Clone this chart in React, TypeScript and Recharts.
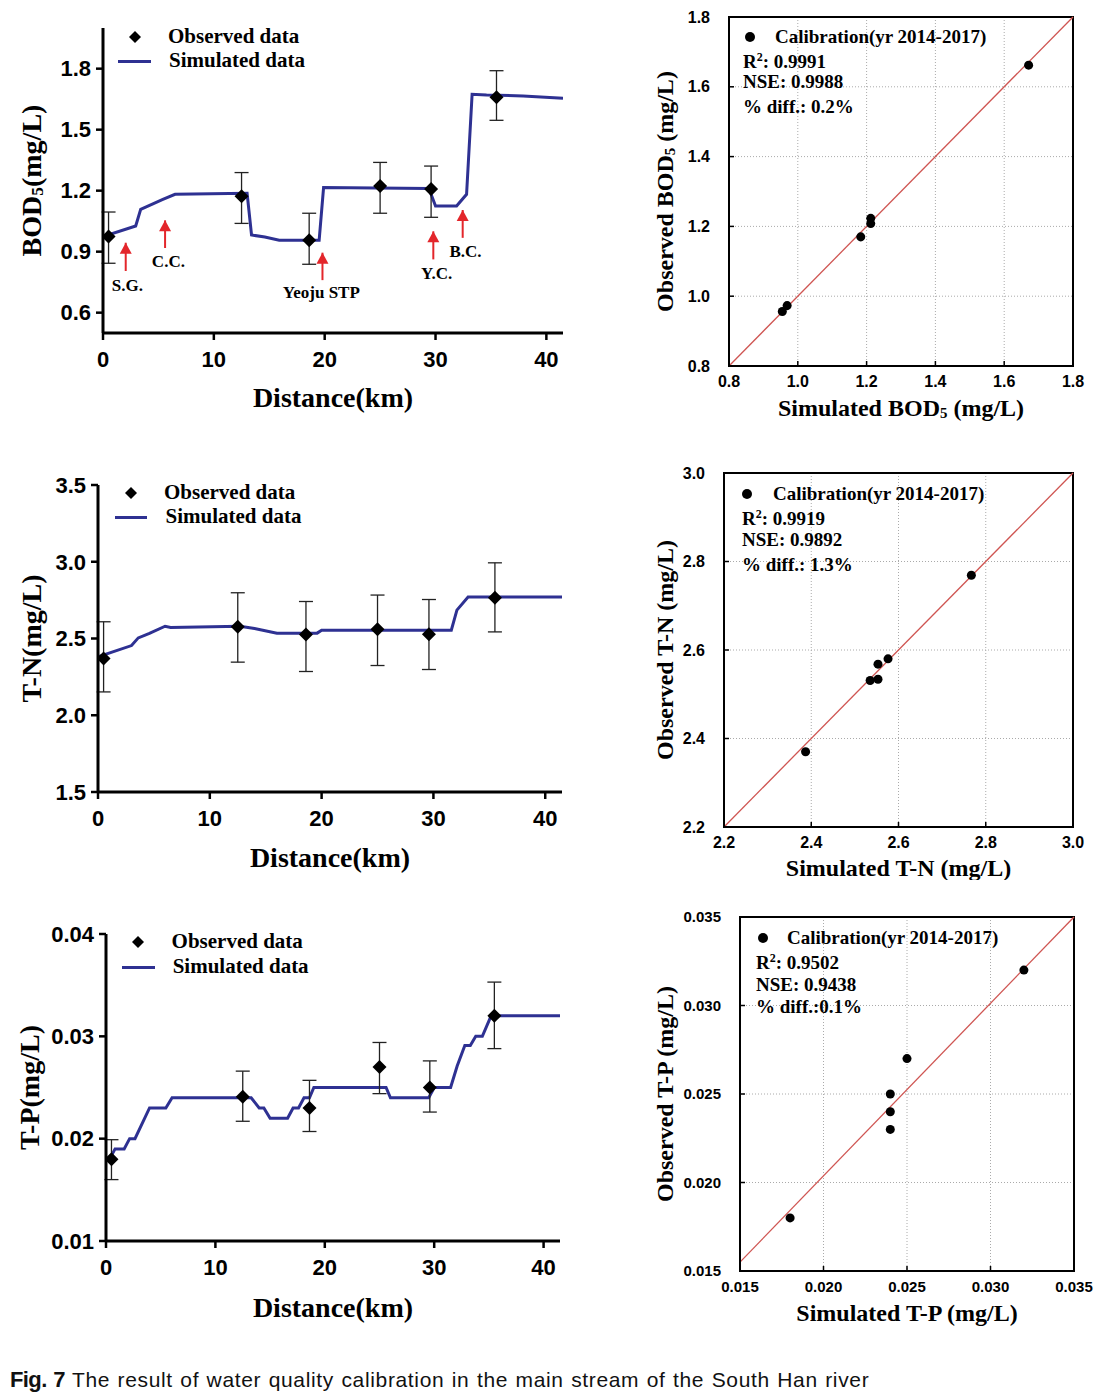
import React from 'react';
import {
  ComposedChart,
  Line,
  Scatter,
  XAxis,
  YAxis,
  ErrorBar,
  ReferenceLine,
  ReferenceDot,
  ReferenceArea,
  CartesianGrid,
  Legend,
} from 'recharts';

const SERIF = '"Liberation Serif", "Times New Roman", serif';
const SANS = '"Liberation Sans", Arial, sans-serif';
const NAVY = '#2e3192';
const RED = '#e3262b';
const FIT = '#cf5552';

// ---------- longitudinal profiles ----------
const stationKm = [0.5, 12.5, 18.6, 25.0, 29.6, 35.5];

const bodSimKm = [0, 2.95, 3.4, 4.4, 5.4, 6.5, 13.0, 13.4, 14.6, 15.9, 19.5, 19.9, 29.4, 30.0, 31.9, 32.8, 33.3, 34.6, 37.9, 41.5];
const bodSimVal = [0.974, 1.026, 1.108, 1.133, 1.157, 1.182, 1.187, 0.982, 0.972, 0.956, 0.956, 1.215, 1.211, 1.125, 1.125, 1.182, 1.674, 1.67, 1.666, 1.654];
const bodObsVal = [0.974, 1.172, 0.956, 1.223, 1.208, 1.66];
const bodObsLow = [0.843, 1.039, 0.838, 1.089, 1.069, 1.546];
const bodObsHigh = [1.095, 1.289, 1.089, 1.339, 1.321, 1.79];

const tnSimKm = [0, 3.0, 3.6, 4.6, 6.0, 6.5, 12.7, 14.0, 16.0, 19.6, 20.0, 31.6, 32.1, 33.1, 41.5];
const tnSimVal = [2.38, 2.454, 2.504, 2.533, 2.58, 2.572, 2.58, 2.565, 2.535, 2.535, 2.554, 2.554, 2.685, 2.77, 2.77];
const tnObsVal = [2.37, 2.576, 2.526, 2.561, 2.528, 2.765];
const tnObsLow = [2.152, 2.346, 2.285, 2.324, 2.298, 2.543];
const tnObsHigh = [2.609, 2.798, 2.741, 2.783, 2.754, 2.993];

const tpSimKm = [0.33, 0.83, 1.66, 2.16, 2.65, 3.98, 5.47, 6.04, 13.27, 14.0, 14.43, 15.0, 16.6, 17.1, 17.6, 18.1, 18.6, 19.0, 25.6, 26.0, 29.5, 30.0, 31.5, 32.1, 32.8, 33.3, 33.8, 34.4, 35.2, 41.5];
const tpSimVal = [0.018, 0.019, 0.019, 0.02, 0.02, 0.023, 0.023, 0.024, 0.024, 0.023, 0.023, 0.022, 0.022, 0.023, 0.023, 0.024, 0.024, 0.025, 0.025, 0.024, 0.024, 0.025, 0.025, 0.0271, 0.0291, 0.0291, 0.03, 0.03, 0.032, 0.032];
const tpObsVal = [0.018, 0.0241, 0.023, 0.027, 0.025, 0.032];
const tpObsLow = [0.016, 0.0217, 0.0207, 0.0244, 0.0226, 0.0288];
const tpObsHigh = [0.0199, 0.0266, 0.0257, 0.0294, 0.0276, 0.0353];

const kmTicks = [0, 10, 20, 30, 40];
const bodTicks = [0.6, 0.9, 1.2, 1.5, 1.8];
const tnTicks = [1.5, 2.0, 2.5, 3.0, 3.5];
const tpTicks = [0.01, 0.02, 0.03, 0.04];

// tributary / outfall arrows on the BOD profile
const arrowKm = [2.05, 5.6, 19.8, 29.8, 32.45];
const arrowHead = [0.944, 1.054, 0.895, 1.0, 1.105];
const arrowTail = [0.805, 0.918, 0.76, 0.862, 0.968];
const arrowName = ['S.G.', 'C.C.', 'Yeoju STP', 'Y.C.', 'B.C.'];
const arrowNameKm = [2.2, 5.9, 19.7, 30.1, 32.7];
const arrowNameVal = [0.736, 0.852, 0.698, 0.795, 0.9];

// ---------- scatter (simulated vs observed) ----------
const bodScSim = [0.955, 0.969, 1.183, 1.212, 1.212, 1.671];
const bodScObs = [0.956, 0.973, 1.17, 1.223, 1.208, 1.662];
const tnScSim = [2.387, 2.535, 2.553, 2.553, 2.576, 2.767];
const tnScObs = [2.37, 2.531, 2.534, 2.568, 2.58, 2.769];
const tpScSim = [0.018, 0.024, 0.024, 0.024, 0.025, 0.032];
const tpScObs = [0.018, 0.025, 0.024, 0.023, 0.027, 0.032];

const bodScTicks = [0.8, 1.0, 1.2, 1.4, 1.6, 1.8];
const tnScTicks = [2.2, 2.4, 2.6, 2.8, 3.0];
const tpScTicks = [0.015, 0.02, 0.025, 0.03, 0.035];

const bodFit = [[0.8, 0.8], [1.8, 1.8]];
const tnFit = [[2.2, 2.2], [3.0, 3.0]];
const tpFit = [[0.015, 0.0155], [0.035, 0.035]];

const bodStats = ['0.9991', '0.9988', ' 0.2%'];
const tnStats = ['0.9919', '0.9892', ' 1.3%'];
const tpStats = ['0.9502', '0.9438', '0.1%'];

// ---------- helpers ----------
const toLine = (xs: number[], ys: number[]) => xs.map((x, i) => ({ x, y: ys[i] }));
const toObs = (v: number[], lo: number[], hi: number[]) =>
  stationKm.map((x, i) => ({ x, y: v[i], err: [v[i] - lo[i], hi[i] - v[i]] }));
const toPairs = (xs: number[], ys: number[]) => xs.map((x, i) => ({ x, y: ys[i] }));

type Seg = { t: string; k?: 'sub' | 'sup' };

function richSpans(segs: Seg[], size: number) {
  let shift = 0;
  return segs.map((s, i) => {
    const target = s.k === 'sub' ? size * 0.22 : s.k === 'sup' ? -size * 0.38 : 0;
    const dy = target - shift;
    shift = target;
    return (
      <tspan key={i} dy={dy} fontSize={s.k ? size * 0.62 : size}>
        {s.t}
      </tspan>
    );
  });
}

const yTitle = (segs: Seg[], x: number, size: number) => (props: any) => {
  const vb = props.viewBox;
  const cy = vb.y + vb.height / 2;
  return (
    <text x={x} y={cy} transform={`rotate(-90 ${x} ${cy})`} textAnchor="middle" dominantBaseline="central"
      fontFamily={SERIF} fontWeight={700} fontSize={size} fill="#000">
      {richSpans(segs, size)}
    </text>
  );
};

const xTitle = (segs: Seg[], y: number, size: number) => (props: any) => {
  const vb = props.viewBox;
  const cx = vb.x + vb.width / 2;
  return (
    <text x={cx} y={y} textAnchor="middle" dominantBaseline="central"
      fontFamily={SERIF} fontWeight={700} fontSize={size} fill="#000">
      {richSpans(segs, size)}
    </text>
  );
};

const Diamond = (p: any) => {
  const r = 7;
  const { cx, cy } = p;
  return <polygon points={`${cx},${cy - r} ${cx + r},${cy} ${cx},${cy + r} ${cx - r},${cy}`} fill="#000" />;
};

const ArrowHead = (p: any) => (
  <polygon points={`${p.cx},${p.cy} ${p.cx + 6},${p.cy + 11} ${p.cx - 6},${p.cy + 11}`} fill={RED} />
);

const tag = (text: string) => (p: any) => (
  <text x={p.cx} y={p.cy} textAnchor="middle" dominantBaseline="central" fontFamily={SERIF} fontWeight={700} fontSize={17} fill="#000">
    {text}
  </text>
);

function Tx({ x, cy, size, children }: { x: number; cy: number; size: number; children: React.ReactNode }) {
  return (
    <div style={{ position: 'absolute', left: x, top: cy - size * 0.6, fontSize: size, lineHeight: `${size * 1.2}px`,
      fontFamily: SERIF, fontWeight: 700, color: '#000', whiteSpace: 'nowrap' }}>
      {children}
    </div>
  );
}

type ProfLegendPos = { dx: number; dy: number; lx1: number; lx2: number; ly: number; t1: number; t2: number };

function ProfileLegend({ p }: { p: ProfLegendPos }) {
  return (
    <div style={{ position: 'relative', width: 1, height: 1 }}>
      <svg style={{ position: 'absolute', left: p.dx - 7, top: p.dy - 7, overflow: 'visible' }} width={14} height={14}>
        <polygon points="7,1 13,7 7,13 1,7" fill="#000" />
      </svg>
      <Tx x={p.t1} cy={p.dy} size={21}>Observed data</Tx>
      <div style={{ position: 'absolute', left: p.lx1, top: p.ly - 1.5, width: p.lx2 - p.lx1, height: 3, background: NAVY }} />
      <Tx x={p.t2} cy={p.ly} size={21}>Simulated data</Tx>
    </div>
  );
}

type ScLegendPos = { dx: number; dy: number; tx: number; sx: number; r: number; n: number; d: number };

function ScatterLegend({ p, stats }: { p: ScLegendPos; stats: string[] }) {
  return (
    <div style={{ position: 'relative', width: 1, height: 1 }}>
      <div style={{ position: 'absolute', left: p.dx - 5, top: p.dy - 5, width: 10, height: 10, borderRadius: 5, background: '#000' }} />
      <Tx x={p.tx} cy={p.dy} size={19}>Calibration(yr 2014-2017)</Tx>
      <Tx x={p.sx} cy={p.r} size={19}>
        R<sup style={{ fontSize: 12, verticalAlign: 'top', lineHeight: '12px' }}>2</sup>: {stats[0]}
      </Tx>
      <Tx x={p.sx} cy={p.n} size={19}>NSE: {stats[1]}</Tx>
      <Tx x={p.sx} cy={p.d} size={19}>% diff.:{stats[2]}</Tx>
    </div>
  );
}

// ---------- panels ----------
type ProfileProps = {
  top: number;
  height: number;
  margin: { top: number; right: number; left: number; bottom: number };
  sim: { x: number; y: number }[];
  obs: { x: number; y: number; err: number[] }[];
  yDomain: [number, number];
  yTicks: number[];
  digits: number;
  yLabel: Seg[];
  yLabelX: number;
  xLabelY: number;
  legend: ProfLegendPos;
  extras?: React.ReactNode;
};

function ProfilePanel(props: ProfileProps) {
  const { top, height, margin, sim, obs, yDomain, yTicks, digits, yLabel, yLabelX, xLabelY, legend, extras } = props;
  return (
    <div style={{ position: 'absolute', left: 0, top, width: 580, height }}>
      <ComposedChart width={580} height={height} margin={margin}>
        <XAxis type="number" dataKey="x" domain={[0, 41.5]} ticks={kmTicks} allowDataOverflow height={30}
          axisLine={{ stroke: '#000', strokeWidth: 3 }} tickLine={{ stroke: '#000', strokeWidth: 2.5 }}
          tickSize={7} tickMargin={11} tick={{ fill: '#000', fontFamily: SANS, fontWeight: 700, fontSize: 22 }}
          label={xTitle([{ t: 'Distance(km)' }], xLabelY, 28)} />
        <YAxis type="number" domain={yDomain} ticks={yTicks} allowDataOverflow width={60}
          tickFormatter={(v: number) => v.toFixed(digits)}
          axisLine={{ stroke: '#000', strokeWidth: 3 }} tickLine={{ stroke: '#000', strokeWidth: 2.5 }}
          tickSize={7} tickMargin={5} tick={{ fill: '#000', fontFamily: SANS, fontWeight: 700, fontSize: 22 }}
          label={yTitle(yLabel, yLabelX, 28)} />
        <Legend verticalAlign="middle" align="center" layout="horizontal"
          wrapperStyle={{ left: 0, top: 0, width: 1, height: 1 }}
          content={() => <ProfileLegend p={legend} />} />
        <Line data={sim} dataKey="y" type="linear" stroke={NAVY} strokeWidth={3} dot={false} isAnimationActive={false} />
        <Scatter data={obs} dataKey="y" shape={Diamond} isAnimationActive={false}>
          <ErrorBar dataKey="err" direction="y" width={7} stroke="#222" strokeWidth={1.3} />
        </Scatter>
        {extras}
      </ComposedChart>
    </div>
  );
}

type ScatterProps = {
  left: number;
  top: number;
  height: number;
  margin: { top: number; right: number; left: number; bottom: number };
  pts: { x: number; y: number }[];
  domain: [number, number];
  ticks: number[];
  digits: number;
  fit: number[][];
  fontSize: number;
  xLabel: Seg[];
  yLabel: Seg[];
  xLabelY: number;
  legend: ScLegendPos;
  stats: string[];
};

function ScatterPanel(props: ScatterProps) {
  const { left, top, height, margin, pts, domain, ticks, digits, fit, fontSize, xLabel, yLabel, xLabelY, legend, stats } = props;
  const fmt = (v: number) => v.toFixed(digits);
  const tick = { fill: '#000', fontFamily: SANS, fontWeight: 700, fontSize };
  return (
    <div style={{ position: 'absolute', left, top, width: 483, height }}>
      <ComposedChart width={483} height={height} margin={margin}>
        <CartesianGrid stroke="#aaa" strokeDasharray="1 2" />
        <XAxis type="number" dataKey="x" domain={domain} ticks={ticks} allowDataOverflow height={30} tickFormatter={fmt}
          axisLine={{ stroke: '#000', strokeWidth: 2 }} tickLine={{ stroke: '#000', strokeWidth: 1.5 }}
          tickSize={-5} tickMargin={15} tick={tick} label={xTitle(xLabel, xLabelY, 24)} />
        <YAxis type="number" domain={domain} ticks={ticks} allowDataOverflow width={60} tickFormatter={fmt}
          axisLine={{ stroke: '#000', strokeWidth: 2 }} tickLine={{ stroke: '#000', strokeWidth: 1.5 }}
          tickSize={-5} tickMargin={24} tick={tick} label={yTitle(yLabel, 35, 24)} />
        <ReferenceArea x1={domain[0]} x2={domain[1]} y1={domain[0]} y2={domain[1]} fill="none" fillOpacity={0}
          stroke="#000" strokeWidth={2} ifOverflow="visible" />
        <ReferenceLine segment={[{ x: fit[0][0], y: fit[0][1] }, { x: fit[1][0], y: fit[1][1] }]}
          stroke={FIT} strokeWidth={1.3} ifOverflow="visible" />
        <Legend verticalAlign="middle" align="center" layout="horizontal"
          wrapperStyle={{ left: 0, top: 0, width: 1, height: 1 }}
          content={() => <ScatterLegend p={legend} stats={stats} />} />
        <Scatter data={pts} dataKey="y" fill="#000" isAnimationActive={false} />
      </ComposedChart>
    </div>
  );
}

const bodArrows = arrowKm.flatMap((km, i) => [
  <ReferenceLine key={`s${i}`} segment={[{ x: km, y: arrowTail[i] }, { x: km, y: arrowHead[i] }]} stroke={RED} strokeWidth={2} />,
  <ReferenceDot key={`h${i}`} x={km} y={arrowHead[i]} r={6} shape={ArrowHead} />,
  <ReferenceDot key={`t${i}`} x={arrowNameKm[i]} y={arrowNameVal[i]} r={6} shape={tag(arrowName[i])} />,
]);

export default function App() {
  return (
    <div style={{ position: 'absolute', left: 0, top: 0, width: 1113, height: 1396, background: '#fff', overflow: 'hidden' }}>
      <ProfilePanel top={0} height={430} margin={{ top: 28, right: 17, left: 43, bottom: 67 }}
        sim={toLine(bodSimKm, bodSimVal)} obs={toObs(bodObsVal, bodObsLow, bodObsHigh)}
        yDomain={[0.5, 2.0]} yTicks={bodTicks} digits={1}
        yLabel={[{ t: 'BOD' }, { t: '5', k: 'sub' }, { t: '(mg/L)' }]} yLabelX={31} xLabelY={397}
        legend={{ dx: 134.5, dy: 37, lx1: 118, lx2: 151, ly: 61, t1: 168, t2: 169 }}
        extras={bodArrows} />
      <ProfilePanel top={440} height={440} margin={{ top: 45, right: 18, left: 38, bottom: 58 }}
        sim={toLine(tnSimKm, tnSimVal)} obs={toObs(tnObsVal, tnObsLow, tnObsHigh)}
        yDomain={[1.5, 3.5]} yTicks={tnTicks} digits={1}
        yLabel={[{ t: 'T-N(mg/L)' }]} yLabelX={31} xLabelY={417}
        legend={{ dx: 131, dy: 53, lx1: 114.5, lx2: 147, ly: 77, t1: 164, t2: 165.5 }} />
      <ProfilePanel top={890} height={450} margin={{ top: 44, right: 20, left: 46, bottom: 69 }}
        sim={toLine(tpSimKm, tpSimVal)} obs={toObs(tpObsVal, tpObsLow, tpObsHigh)}
        yDomain={[0.01, 0.04]} yTicks={tpTicks} digits={2}
        yLabel={[{ t: 'T-P(mg/L)' }]} yLabelX={29} xLabelY={417}
        legend={{ dx: 138, dy: 52, lx1: 122, lx2: 154.5, ly: 77, t1: 171.6, t2: 172.7 }} />

      <ScatterPanel left={630} top={0} height={430} margin={{ top: 17, right: 40, left: 39, bottom: 34 }}
        pts={toPairs(bodScSim, bodScObs)} domain={[0.8, 1.8]} ticks={bodScTicks} digits={1} fit={bodFit} fontSize={16}
        xLabel={[{ t: 'Simulated BOD' }, { t: '5', k: 'sub' }, { t: ' (mg/L)' }]}
        yLabel={[{ t: 'Observed BOD' }, { t: '5', k: 'sub' }, { t: ' (mg/L)' }]} xLabelY={408}
        legend={{ dx: 120, dy: 37, tx: 145, sx: 113, r: 62, n: 82, d: 107 }} stats={bodStats} />
      <ScatterPanel left={630} top={440} height={440} margin={{ top: 33, right: 40, left: 34, bottom: 23 }}
        pts={toPairs(tnScSim, tnScObs)} domain={[2.2, 3.0]} ticks={tnScTicks} digits={1} fit={tnFit} fontSize={16}
        xLabel={[{ t: 'Simulated T-N (mg/L)' }]} yLabel={[{ t: 'Observed T-N (mg/L)' }]} xLabelY={428}
        legend={{ dx: 117, dy: 54, tx: 143, sx: 112, r: 79, n: 100, d: 125 }} stats={tnStats} />
      <ScatterPanel left={630} top={890} height={450} margin={{ top: 27, right: 39, left: 50, bottom: 39 }}
        pts={toPairs(tpScSim, tpScObs)} domain={[0.015, 0.035]} ticks={tpScTicks} digits={3} fit={tpFit} fontSize={15}
        xLabel={[{ t: 'Simulated T-P (mg/L)' }]} yLabel={[{ t: 'Observed T-P (mg/L)' }]} xLabelY={423}
        legend={{ dx: 133, dy: 48, tx: 157, sx: 126, r: 73, n: 95, d: 117 }} stats={tpStats} />

      <div style={{ position: 'absolute', left: 10, top: 1367, fontFamily: SANS, fontSize: 21, color: '#111', whiteSpace: 'nowrap', letterSpacing: 0.65, wordSpacing: 1 }}>
        <b style={{ letterSpacing: -0.6, fontSize: 22 }}>Fig. 7</b> The result of water quality calibration in the main stream of the South Han river
      </div>
    </div>
  );
}
